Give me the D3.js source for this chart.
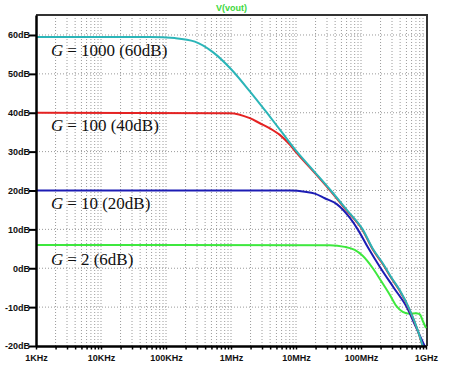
<!DOCTYPE html>
<html>
<head>
<meta charset="utf-8">
<script src="https://cdn.jsdelivr.net/npm/d3@7"></script>
<style>
  body { margin: 0; background: #fff; }
  #chart svg { display: block; }
</style>
</head>
<body>
<div id="chart"></div>
<script>
// frequencies in Hz, gains in dB
var freqG1000 = [1e3, 56.6e3, 137e3, 278e3, 526e3, 1.03e6, 1.95e6, 3.56e6, 6.05e6, 10.3e6, 18.8e6, 34.3e6, 60.4e6, 106e6, 152e6, 216e6, 297e6, 394e6, 562e6, 745e6, 890e6, 1e9]
var dbG1000   = [59.5, 59.5, 59.2, 58.3, 55.6, 51, 45.5, 40, 35, 30, 25, 20, 15, 10, 5, 1.3, -2.5, -5.6, -10.7, -15.9, -20, -23]

var freqG100 = [1e3, 960e3, 1.95e6, 2.78e6, 3.96e6, 5.64e6, 8.03e6, 10.3e6, 18.8e6, 34.3e6, 60.4e6, 106e6, 152e6, 216e6, 297e6, 394e6, 562e6, 745e6, 890e6, 1e9]
var dbG100   = [40, 39.9, 38.6, 37.3, 36, 34.3, 31.8, 29.6, 24.8, 19.8, 14.8, 9.8, 4.8, 1.1, -2.7, -5.8, -10.8, -16, -20.1, -23]

var freqG10 = [1e3, 8.03e6, 13.7e6, 19.5e6, 27.7e6, 42.4e6, 67.1e6, 89.1e6, 131.6e6, 201e6, 319e6, 505e6, 695e6, 955e6, 1e9]
var dbG10   = [20, 20, 19.7, 19.2, 18, 16.5, 13, 10, 5, 0, -5, -10, -15, -20, -20.7]

var freqG2 = [1e3, 33.1e6, 56.3e6, 80.1e6, 106e6, 152e6, 208e6, 277e6, 354e6, 438e6, 562e6, 695e6, 800e6, 890e6, 1e9]
var dbG2   = [6, 5.9, 5.5, 4.7, 3.2, 0, -3.5, -6.8, -9.8, -11.2, -11.7, -11.6, -11.8, -13.5, -15.4]

var yTicks = [-20, -10, 0, 10, 20, 30, 40, 50, 60]
var decadeTicks = [1e3, 1e4, 1e5, 1e6, 1e7, 1e8, 1e9]
var decadeLabels = ["1KHz", "10KHz", "100KHz", "1MHz", "10MHz", "100MHz", "1GHz"]

var traces = [
  {freq: freqG2, db: dbG2, color: "#3ee83e", label: "2 (6dB)", baseline: 265},
  {freq: freqG10, db: dbG10, color: "#1c1cb4", label: "10 (20dB)", baseline: 209},
  {freq: freqG100, db: dbG100, color: "#e42222", label: "100 (40dB)", baseline: 131},
  {freq: freqG1000, db: dbG1000, color: "#2bb5b8", label: "1000 (60dB)", baseline: 56}
]

var W = 450, H = 369
var margin = {top: 15, right: 23, bottom: 23, left: 36}
var width = W - margin.left - margin.right,
    height = H - margin.top - margin.bottom

var svg = d3.select("#chart")
  .append("svg")
    .attr("width", W)
    .attr("height", H)

var g = svg.append("g")
    .attr("transform", "translate(" + margin.left + "," + margin.top + ")")

var x = d3.scaleLog()
  .domain([1e3, 1e9])
  .range([0, width - 1])

var y = d3.scaleLinear()
  .domain([-20, 65.14])
  .range([height, 0])

// all minor positions of the log axis
var minorTicks = []
for (var k = 3; k < 9; k++) {
  for (var m = 1; m < 10; m++) minorTicks.push(m * Math.pow(10, k))
}
minorTicks.push(1e9)

// dotted grid
g.append("g")
  .selectAll("line")
  .data(minorTicks.filter(function(d) { return d > 1e3 && d < 1e9 }))
  .enter().append("line")
    .attr("x1", function(d) { return x(d) }).attr("x2", function(d) { return x(d) })
    .attr("y1", 0).attr("y2", height)
    .attr("stroke", "#9a9a9a")
    .attr("stroke-width", 1)
    .attr("stroke-dasharray", "1,2")

g.append("g")
  .selectAll("line")
  .data(yTicks.filter(function(d) { return d > -20 }))
  .enter().append("line")
    .attr("x1", 0).attr("x2", width)
    .attr("y1", function(d) { return y(d) }).attr("y2", function(d) { return y(d) })
    .attr("stroke", "#9a9a9a")
    .attr("stroke-width", 1)
    .attr("stroke-dasharray", "1,2")

// top and right frame
g.append("path")
  .attr("d", "M0,0H" + width + "V" + height)
  .attr("fill", "none")
  .attr("stroke", "#333")
  .attr("stroke-width", 2)

// traces
g.append("clipPath").attr("id", "plotclip")
  .append("rect").attr("width", width).attr("height", height)

var line = d3.line()
  .x(function(d) { return x(d[0]) })
  .y(function(d) { return y(d[1]) })
  .curve(d3.curveMonotoneX)

g.append("g")
  .attr("clip-path", "url(#plotclip)")
  .selectAll("path")
  .data(traces)
  .enter().append("path")
    .attr("d", function(t) { return line(d3.zip(t.freq, t.db)) })
    .attr("fill", "none")
    .attr("stroke", function(t) { return t.color })
    .attr("stroke-width", 2)

// axes
var yAxis = g.append("g")
  .call(d3.axisLeft(y).tickValues(yTicks).tickSizeInner(7).tickSizeOuter(0)
    .tickFormat(function(d) { return d + "dB" }))
yAxis.select(".domain").attr("stroke", "#000").attr("stroke-width", 2.5)
yAxis.selectAll(".tick line").attr("stroke", "#000").attr("stroke-width", 2)
yAxis.selectAll(".tick text")
  .attr("x", -6)
  .attr("font-family", "Liberation Sans, Arial, sans-serif")
  .attr("font-size", 9)
  .attr("font-weight", "bold")
  .attr("fill", "#111")

var xAxis = g.append("g")
  .attr("transform", "translate(0," + height + ")")
  .call(d3.axisBottom(x).tickValues(minorTicks).tickSizeInner(3.5).tickSizeOuter(0)
    .tickFormat(function(d) {
      var i = decadeTicks.indexOf(d)
      return i < 0 ? "" : decadeLabels[i]
    }))
xAxis.select(".domain").attr("stroke", "#000").attr("stroke-width", 2.5)
xAxis.selectAll(".tick line").attr("stroke", "#000").attr("stroke-width", 1.5)
xAxis.selectAll(".tick text")
  .attr("y", 9)
  .attr("font-family", "Liberation Sans, Arial, sans-serif")
  .attr("font-size", 9)
  .attr("font-weight", "bold")
  .attr("fill", "#111")

// title
svg.append("text")
  .attr("x", margin.left + width / 2)
  .attr("y", 11)
  .attr("text-anchor", "middle")
  .attr("font-family", "Liberation Sans, Arial, sans-serif")
  .attr("font-size", 9)
  .attr("font-weight", "bold")
  .attr("fill", "#3ed83e")
  .text("V(vout)")

// gain annotations
var notes = svg.append("g")
  .selectAll("text")
  .data(traces)
  .enter().append("text")
    .attr("x", 51)
    .attr("y", function(t) { return t.baseline })
    .attr("font-family", "Liberation Serif, Times New Roman, serif")
    .attr("font-size", 17)
    .attr("fill", "#111")
notes.append("tspan").attr("font-style", "italic").text("G")
notes.append("tspan").attr("dx", 4).text("=")
notes.append("tspan").attr("dx", 4).text(function(t) { return t.label })
</script>
</body>
</html>
